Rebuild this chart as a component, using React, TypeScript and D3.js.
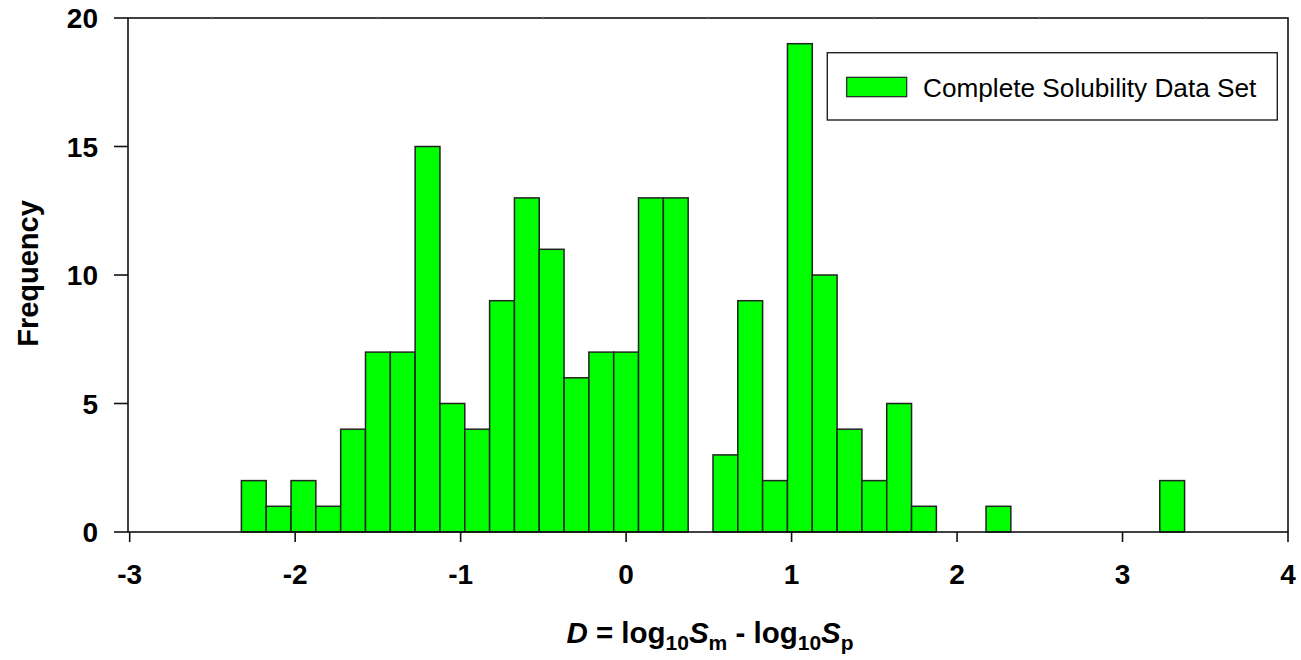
import React from "react";
import * as d3 from "d3";

const binLefts: number[] = [
  -2.325, -2.175, -2.025, -1.875, -1.725, -1.575, -1.425, -1.275, -1.125, -0.975,
  -0.825, -0.675, -0.525, -0.375, -0.225, -0.075, 0.075, 0.225, 0.375, 0.525,
  0.675, 0.825, 0.975, 1.125, 1.275, 1.425, 1.575, 1.725, 1.875, 2.025,
  2.175, 2.325, 2.475, 2.625, 2.775, 2.925, 3.075, 3.225,
];
const binWidth = 0.15;
const counts: number[] = [
  2, 1, 2, 1, 4, 7, 7, 15, 5, 4,
  9, 13, 11, 6, 7, 7, 13, 13, 0, 3,
  9, 2, 19, 10, 4, 2, 5, 1, 0, 0,
  1, 0, 0, 0, 0, 0, 0, 2,
];
const xTicks: number[] = [-3, -2, -1, 0, 1, 2, 3, 4];
const yTicks: number[] = [0, 5, 10, 15, 20];
const minorTicks: number[] = [-2.5, -1.5, -0.5, 0.5, 1.5, 2.5, 3.5];
const legendLabel = "Complete Solubility Data Set";

const W = 1301;
const H = 660;
const frameLeft = 128;
const frameRight = 1288;
const frameTop = 18;
const frameBottom = 532;
const font = "'Liberation Sans', Arial, Helvetica, sans-serif";

export default function App() {
  const x = d3.scaleLinear().domain([-3, 4]).range([129.7, 1288]);
  const y = d3.scaleLinear().domain([0, 20]).range([frameBottom, frameTop]);

  return (
    <svg
      width={W}
      height={H}
      style={{ position: "absolute", left: 0, top: 0, background: "#fff" }}
      fontFamily={font}
    >
      {binLefts.map((b, i) =>
        counts[i] > 0 ? (
          <rect
            key={i}
            x={x(b)}
            y={y(counts[i])}
            width={x(b + binWidth) - x(b)}
            height={y(0) - y(counts[i])}
            fill="#00ff00"
            stroke="#222"
            strokeWidth={1.5}
          />
        ) : null
      )}

      <rect
        x={frameLeft}
        y={frameTop}
        width={frameRight - frameLeft}
        height={frameBottom - frameTop}
        fill="none"
        stroke="#111"
        strokeWidth={1.6}
      />

      {minorTicks.map((t) => (
        <line key={"m" + t} x1={x(t)} x2={x(t)} y1={frameTop} y2={frameTop - 1.5} stroke="#999" strokeWidth={1} />
      ))}

      {xTicks.map((t) => (
        <g key={"x" + t}>
          <line x1={x(t)} x2={x(t)} y1={frameBottom} y2={frameBottom + 10} stroke="#111" strokeWidth={1.6} />
          <text x={x(t)} y={584} textAnchor="middle" fontSize={28} fontWeight="bold" fill="#000">
            {t}
          </text>
        </g>
      ))}

      {yTicks.map((t) => (
        <g key={"y" + t}>
          <line x1={frameLeft - 14} x2={frameLeft} y1={y(t)} y2={y(t)} stroke="#111" strokeWidth={1.6} />
          <text x={98} y={y(t)} dy="0.36em" textAnchor="end" fontSize={28} fontWeight="bold" fill="#000">
            {t}
          </text>
        </g>
      ))}

      <text
        transform={`translate(37.5, 273.5) rotate(-90)`}
        textAnchor="middle"
        fontSize={29}
        fontWeight="bold"
        fill="#000"
      >
        Frequency
      </text>

      <text x={710} y={643} textAnchor="middle" fontSize={29.5} fontWeight="bold" fill="#000">
        <tspan fontStyle="italic">D</tspan>
        <tspan> = log</tspan>
        <tspan fontSize={21} dy={7}>10</tspan>
        <tspan fontStyle="italic" dy={-7}>S</tspan>
        <tspan fontSize={21} dy={7}>m</tspan>
        <tspan dy={-7}> - log</tspan>
        <tspan fontSize={21} dy={7}>10</tspan>
        <tspan fontStyle="italic" dy={-7}>S</tspan>
        <tspan fontSize={21} dy={7}>p</tspan>
      </text>

      <rect x={827.3} y={52.7} width={450} height={67.3} fill="#fff" stroke="#222" strokeWidth={1.4} />
      <rect x={846.7} y={77.3} width={60} height={19.4} fill="#00ff00" stroke="#222" strokeWidth={1.2} />
      <text x={923} y={96.5} fontSize={26.2} fill="#000">
        {legendLabel}
      </text>
    </svg>
  );
}
